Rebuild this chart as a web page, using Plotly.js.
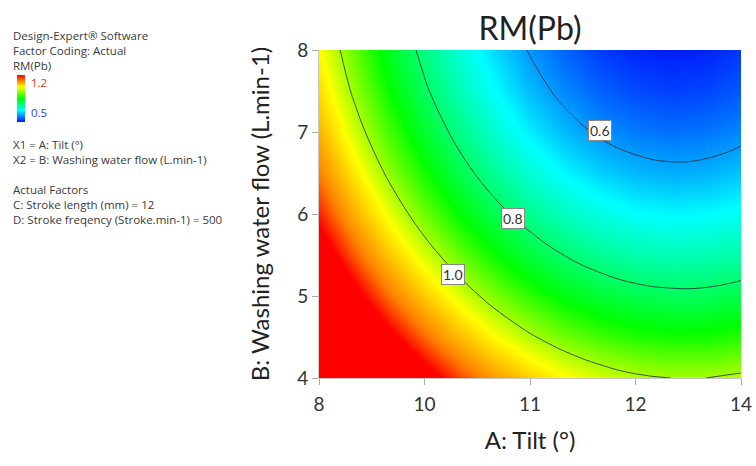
<!DOCTYPE html>
<html>
<head>
<meta charset="utf-8">
<script src="https://cdn.plot.ly/plotly-3.0.1.min.js"></script>
<style>
  html, body { margin: 0; padding: 0; background: #fff; }
  #chart { width: 756px; height: 466px; }
</style>
</head>
<body>
<div id="chart"></div>
<script>
// A: Tilt (°) grid positions
const tilt = [8, 8.5, 9, 9.5, 10, 10.5, 11, 11.5, 12, 12.5, 13, 13.5, 14];
// B: Washing water flow (L.min-1) grid positions
const flow = [4, 4.5, 5, 5.5, 6, 6.5, 7, 7.5, 8];
// RM(Pb) response, one row per flow value
const rmPb = [
  [1.600, 1.491, 1.392, 1.305, 1.228, 1.163, 1.108, 1.064, 1.032, 1.010, 1.000, 1.000, 1.012],
  [1.498, 1.389, 1.291, 1.204, 1.128, 1.062, 1.008, 0.965, 0.933, 0.912, 0.902, 0.903, 0.915],
  [1.405, 1.297, 1.199, 1.113, 1.037, 0.972, 0.919, 0.876, 0.845, 0.824, 0.815, 0.816, 0.829],
  [1.323, 1.215, 1.118, 1.032, 0.957, 0.893, 0.840, 0.798, 0.766, 0.746, 0.737, 0.739, 0.752],
  [1.251, 1.143, 1.047, 0.961, 0.887, 0.823, 0.770, 0.729, 0.698, 0.679, 0.670, 0.673, 0.686],
  [1.189, 1.082, 0.986, 0.900, 0.826, 0.763, 0.711, 0.670, 0.640, 0.621, 0.613, 0.616, 0.630],
  [1.137, 1.030, 0.935, 0.850, 0.777, 0.714, 0.662, 0.622, 0.592, 0.574, 0.566, 0.570, 0.584],
  [1.095, 0.989, 0.894, 0.810, 0.737, 0.675, 0.624, 0.584, 0.555, 0.537, 0.529, 0.533, 0.548],
  [1.063, 0.958, 0.863, 0.780, 0.707, 0.646, 0.595, 0.556, 0.527, 0.509, 0.503, 0.507, 0.523]
];
// contour levels that get a line and a label
const levels = [0.6, 0.8, 1.0];
const levelLabels = ['0.6', '0.8', '1.0'];
// range of the small legend bar
const colorRange = [0.5, 1.2];
// x tick marks and their printed labels
const xTickVals = [8, 9.5, 11, 12.5, 14];
const xTickText = ['8', '10', '11', '12', '14'];
const yTickVals = [4, 5, 6, 7, 8];

const FONT = 'Lato, "Open Sans", sans-serif';
const NOTE_FONT = '"Open Sans", Lato, sans-serif';

// surface colouring: response value -> colour
const surfaceStops = [
  [0.5, '#0019ff'], [0.675, '#00ffff'], [0.89, '#00ff00'],
  [1.06, '#ffff00'], [1.19, '#ff8000'], [1.27, '#ff0000']
];
const sMin = surfaceStops[0][0];
const sMax = surfaceStops[surfaceStops.length - 1][0];
const surfaceScale = surfaceStops.map(([v, c]) => [(v - sMin) / (sMax - sMin), c]);

// legend bar colouring
const legendScale = [
  [0, '#0019ff'], [0.25, '#00ffff'], [0.5, '#00ff00'], [0.75, '#ffff00'], [1, '#ff0000']
];

const surface = {
  type: 'contour',
  x: tilt,
  y: flow,
  z: rmPb,
  zmin: sMin,
  zmax: sMax,
  zauto: false,
  colorscale: surfaceScale,
  showscale: false,
  zsmooth: 'best',
  contours: {
    coloring: 'heatmap',
    start: levels[0],
    end: levels[levels.length - 1] + 0.001,
    size: levels[1] - levels[0],
    showlabels: false
  },
  line: { color: '#2a2a2a', width: 0.8, smoothing: 1.3 },
  hoverinfo: 'skip'
};

// carries only the small RM(Pb) legend bar
const legendBar = {
  type: 'scatter',
  mode: 'markers',
  x: [null], y: [null],
  hoverinfo: 'skip',
  marker: {
    color: colorRange,
    cmin: colorRange[0],
    cmax: colorRange[1],
    colorscale: legendScale,
    showscale: true,
    colorbar: {
      x: (17 - 319) / 422, xanchor: 'left',
      y: (378 - 98.5) / 328, yanchor: 'middle',
      len: 47, lenmode: 'pixels',
      thickness: 8, thicknessmode: 'pixels',
      outlinewidth: 0,
      showticklabels: false,
      ticks: '',
      xpad: 0, ypad: 0
    }
  }
};

// where each contour carries its boxed value label
const labelSpots = [[11.99, 7.02], [10.76, 5.95], [9.91, 5.26]];

const annotations = [];
levelLabels.forEach((t, i) => {
  annotations.push({
    xref: 'x', yref: 'y', x: labelSpots[i][0], y: labelSpots[i][1],
    text: t, showarrow: false,
    font: { family: FONT, size: 14, color: '#333' },
    bgcolor: '#ffffff', bordercolor: '#888', borderwidth: 1, borderpad: 1
  });
});

// notes panel on the left, one block per group of lines (top pixel row of each block)
const noteBlocks = [
  [['Design-Expert® Software', 'Factor Coding: Actual', 'RM(Pb)'], 27],
  [['X1 = A: Tilt (°)', 'X2 = B: Washing water flow (L.min-1)'], 136],
  [['Actual Factors', 'C: Stroke length (mm) = 12', 'D: Stroke freqency (Stroke.min-1) = 500'], 181]
];
const px2x = (px) => (px - 319) / 422;
const px2y = (py) => (378 - py) / 328;
noteBlocks.forEach(([lines, top]) => {
  annotations.push({
    xref: 'paper', yref: 'paper',
    x: px2x(12), y: px2y(top),
    xanchor: 'left', yanchor: 'top', align: 'left',
    text: lines.join('<br>'), showarrow: false,
    borderpad: 0,
    font: { family: NOTE_FONT, size: 11.5, color: '#3a3a3a' }
  });
});
annotations.push({
  xref: 'paper', yref: 'paper', x: px2x(30), y: px2y(82),
  xanchor: 'left', yanchor: 'middle', text: colorRange[1].toFixed(1), showarrow: false,
  borderpad: 0,
  font: { family: NOTE_FONT, size: 11.5, color: '#e0301e' }
});
annotations.push({
  xref: 'paper', yref: 'paper', x: px2x(30), y: px2y(113),
  xanchor: 'left', yanchor: 'middle', text: colorRange[0].toFixed(1), showarrow: false,
  borderpad: 0,
  font: { family: NOTE_FONT, size: 11.5, color: '#2c44d0' }
});

const layout = {
  width: 756,
  height: 466,
  margin: { l: 319, r: 15, t: 50, b: 88 },
  paper_bgcolor: '#ffffff',
  plot_bgcolor: '#ffffff',
  showlegend: false,
  title: {
    text: 'RM(Pb)',
    font: { family: FONT, size: 32, color: '#222' },
    xref: 'paper', x: 0.5, xanchor: 'center',
    yref: 'container', y: 1 - 29 / 466, yanchor: 'middle'
  },
  xaxis: {
    range: [8, 14],
    tickvals: xTickVals,
    ticktext: xTickText,
    ticks: 'outside', ticklen: 6, tickcolor: '#aaa', tickwidth: 1,
    ticklabelstandoff: 3,
    showgrid: false, zeroline: false,
    showline: true, linecolor: '#c8c8c8', linewidth: 1,
    tickfont: { family: FONT, size: 19, color: '#333' },
    title: { text: 'A: Tilt (°)', font: { family: FONT, size: 24, color: '#222' }, standoff: 18 }
  },
  yaxis: {
    range: [4, 8],
    tickvals: yTickVals,
    ticks: 'outside', ticklen: 6, tickcolor: '#aaa', tickwidth: 1,
    showgrid: false, zeroline: false,
    showline: true, linecolor: '#c8c8c8', linewidth: 1,
    tickfont: { family: FONT, size: 19, color: '#333' },
    title: { text: 'B: Washing water flow (L.min-1)', font: { family: FONT, size: 24, color: '#222' }, standoff: 20 }
  },
  annotations: annotations
};

Plotly.newPlot('chart', [surface, legendBar], layout, { displayModeBar: false, staticPlot: true });
</script>
</body>
</html>
